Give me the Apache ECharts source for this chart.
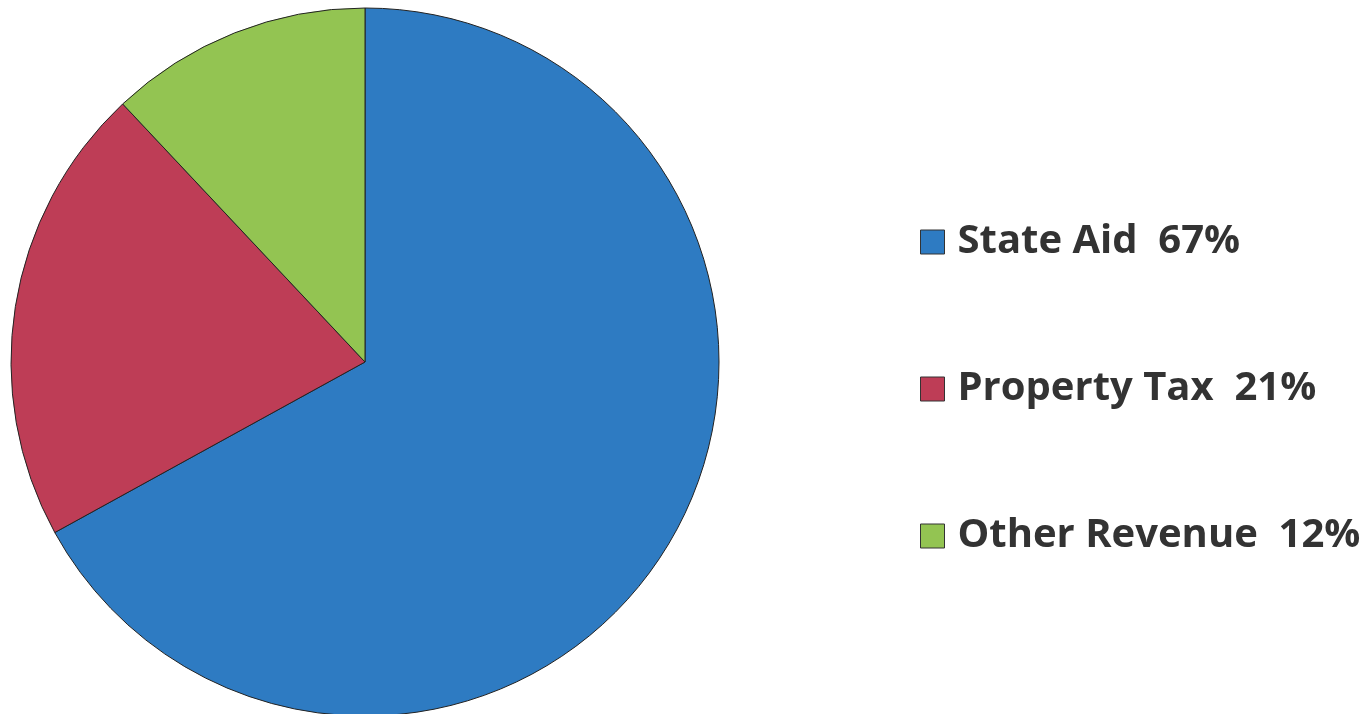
<!DOCTYPE html>
<html><head><meta charset="utf-8">
<script src="https://cdn.jsdelivr.net/npm/echarts@6/dist/echarts.min.js"></script>
<style>html,body{margin:0;padding:0;background:#fff}#c{width:1372px;height:714px}</style>
</head><body><div id="c"></div>
<script>
const categories = ['State Aid', 'Property Tax', 'Other Revenue'];
const values = [67, 21, 12];
const colors = ['#2E7BC2', '#BE3D56', '#93C452'];

const chart = echarts.init(document.getElementById('c'));
chart.setOption({
  animation: false,
  legend: {
    orient: 'vertical',
    left: 915,
    top: 215,
    itemWidth: 24,
    itemHeight: 24,
    itemGap: 103,
    icon: 'rect',
    itemStyle: { borderColor: '#333', borderWidth: 1 },
    formatter: function (name) {
      const i = categories.indexOf(name);
      return name + '  ' + values[i] + '%';
    },
    textStyle: { fontFamily: 'Open Sans', fontWeight: 'bold', fontSize: 40, lineHeight: 44, color: '#333', padding: [0,0,0,8] }
  },
  series: [{
    type: 'pie',
    center: [365, 362],
    radius: 354,
    startAngle: 90,
    clockwise: true,
    label: { show: false },
    labelLine: { show: false },
    itemStyle: { borderColor: '#222', borderWidth: 1 },
    data: categories.map((c, i) => ({ name: c, value: values[i], itemStyle: { color: colors[i] } }))
  }]
});
</script></body></html>
